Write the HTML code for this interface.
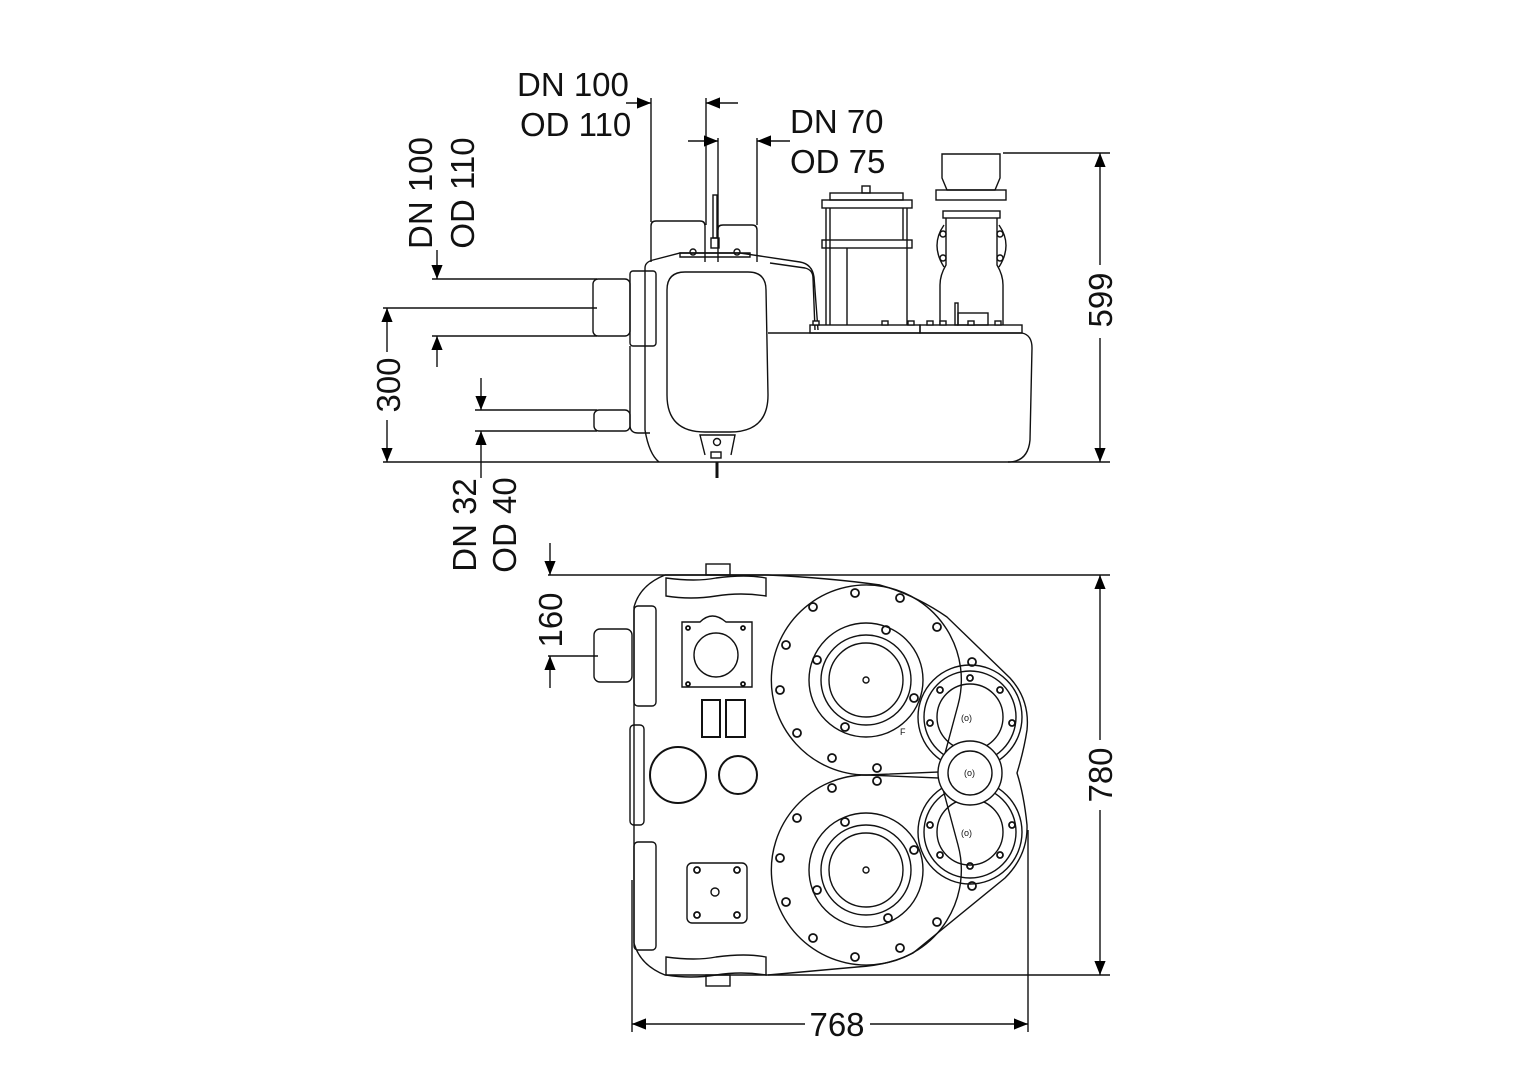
<!DOCTYPE html>
<html><head><meta charset="utf-8"><style>
html,body{margin:0;padding:0;background:#fff}
svg{display:block}
text{font-family:"Liberation Sans",Arial,sans-serif;fill:#111}
</style></head><body>
<svg width="1528" height="1080" viewBox="0 0 1528 1080" xmlns="http://www.w3.org/2000/svg">
<defs>
<marker id="a" viewBox="0 0 10 10" refX="10" refY="5" markerWidth="14" markerHeight="14" markerUnits="userSpaceOnUse" orient="auto"><path d="M0,1 L10,5 L0,9 z" fill="#000"/></marker>
</defs>
<g fill="none" stroke="#111" stroke-width="1.4">
<!-- ===== SIDE VIEW ===== -->
<line x1="383" y1="462" x2="1110" y2="462"/>
<line x1="651" y1="98" x2="651" y2="222"/>
<line x1="706" y1="98" x2="706" y2="225"/>
<line x1="718" y1="138" x2="718" y2="230"/>
<line x1="757" y1="138" x2="757" y2="225"/>
<line x1="626" y1="103" x2="651" y2="103" marker-end="url(#a)"/>
<line x1="738" y1="103" x2="706" y2="103" marker-end="url(#a)"/>
<line x1="688" y1="141" x2="718" y2="141" marker-end="url(#a)"/>
<line x1="790" y1="141" x2="757" y2="141" marker-end="url(#a)"/>
<path d="M651,262 V226 q0,-5 5,-5 H700 q5,0 5,5 V262"/>
<path d="M718,262 V229 q0,-4 5,-4 H752 q5,0 5,5 V262"/>
<rect x="713" y="195" width="4" height="43"/>
<rect x="711" y="238" width="8" height="10"/>
<path d="M645,345 V268 q0,-6 8,-8 L680,253 H740 L760,256 L800,262 q12,2 14,15 L818,330"/>
<path d="M770,263 L805,268 q8,2 8,10 L815,330"/>
<path d="M680,253 h70 v4 h-70z"/>
<circle cx="693" cy="252" r="3"/><circle cx="737" cy="252" r="3"/>
<path d="M667,290 q0,-18 18,-18 H748 q18,0 18,18 L768,395 q0,37 -38,37 H705 q-38,0 -38,-37 z"/>
<rect x="630" y="271" width="26" height="75" rx="3"/>
<path d="M630,346 V425 q0,8 8,8 H650"/>
<path d="M645,345 L645,430 q4,24 14,32"/>
<line x1="432" y1="279" x2="597" y2="279"/>
<line x1="383" y1="308" x2="597" y2="308"/>
<line x1="432" y1="336" x2="597" y2="336"/>
<rect x="593" y="279" width="37" height="57" rx="5"/>
<line x1="475" y1="410" x2="597" y2="410"/>
<line x1="475" y1="431" x2="597" y2="431"/>
<rect x="594" y="410" width="36" height="21" rx="5"/>
<path d="M705,455 L700,435 H735 L731,455"/>
<circle cx="717" cy="442" r="3.5"/>
<rect x="711" y="452" width="10" height="6"/>
<line x1="717" y1="462" x2="717" y2="478" stroke-width="3"/>
<path d="M768,333 H1022 q10,2 10,15 L1030,440 q-2,22 -22,22"/>
<rect x="810" y="325" width="110" height="8"/>
<rect x="920" y="325" width="102" height="8"/>
<rect x="822" y="200" width="90" height="8"/>
<rect x="830" y="193" width="73" height="7"/>
<rect x="862" y="186" width="8" height="7"/>
<rect x="822" y="240" width="90" height="8"/>
<line x1="826" y1="208" x2="826" y2="325"/>
<line x1="830" y1="208" x2="830" y2="325"/>
<line x1="907" y1="208" x2="907" y2="325"/>
<line x1="903" y1="208" x2="903" y2="240"/>
<line x1="847" y1="248" x2="847" y2="325"/>
<path d="M942,154 H1000 V178 L995,190 H947 L942,178 z"/>
<rect x="936" y="190" width="70" height="10"/>
<rect x="943" y="211" width="57" height="7"/>
<path d="M946,218 V265 q-6,10 -6,20 V325 M997,218 V265 q6,10 6,20 V325"/>
<path d="M944,225 q-14,20 0,42 M999,225 q14,20 0,42"/>
<circle cx="943" cy="234" r="3"/><circle cx="943" cy="258" r="3"/>
<circle cx="1000" cy="234" r="3"/><circle cx="1000" cy="258" r="3"/>
<rect x="955" y="303" width="3" height="22"/>
<rect x="958" y="313" width="30" height="12"/>
<g fill="#fff">
<rect x="813" y="321" width="6" height="4"/><rect x="882" y="321" width="6" height="4"/><rect x="908" y="321" width="6" height="4"/>
<rect x="927" y="321" width="6" height="4"/><rect x="940" y="321" width="6" height="4"/><rect x="968" y="321" width="6" height="4"/><rect x="995" y="321" width="6" height="4"/>
</g>
<line x1="1003" y1="153" x2="1110" y2="153"/>
<line x1="1100" y1="265" x2="1100" y2="153" marker-end="url(#a)"/>
<line x1="1100" y1="338" x2="1100" y2="462" marker-end="url(#a)"/>
<line x1="437" y1="250" x2="437" y2="279" marker-end="url(#a)"/>
<line x1="437" y1="367" x2="437" y2="336" marker-end="url(#a)"/>
<line x1="387" y1="352" x2="387" y2="308" marker-end="url(#a)"/>
<line x1="387" y1="420" x2="387" y2="462" marker-end="url(#a)"/>
<line x1="481" y1="378" x2="481" y2="410" marker-end="url(#a)"/>
<line x1="481" y1="478" x2="481" y2="431" marker-end="url(#a)"/>

<!-- ===== TOP VIEW ===== -->
<line x1="548" y1="575" x2="1110" y2="575"/>
<line x1="768" y1="975" x2="1110" y2="975"/>
<line x1="550" y1="543" x2="550" y2="575" marker-end="url(#a)"/>
<line x1="548" y1="656" x2="598" y2="656"/>
<line x1="550" y1="688" x2="550" y2="656" marker-end="url(#a)"/>
<line x1="1100" y1="740" x2="1100" y2="575" marker-end="url(#a)"/>
<line x1="1100" y1="810" x2="1100" y2="975" marker-end="url(#a)"/>
<line x1="632" y1="880" x2="632" y2="1032"/>
<line x1="1028" y1="830" x2="1028" y2="1032"/>
<line x1="805" y1="1024" x2="632" y2="1024" marker-end="url(#a)"/>
<line x1="870" y1="1024" x2="1028" y2="1024" marker-end="url(#a)"/>
<rect x="706" y="564" width="24" height="11"/>
<rect x="706" y="975" width="24" height="11"/>
<!-- outline -->
<path d="M665,575 H768 Q830,578 880,585 Q915,595 947,617 L1010,678 Q1030,700 1027,730 Q1024,750 1017,773 Q1024,795 1027,825 Q1028,855 1005,878 L913,953 Q890,965 857,967 L768,975 H665 Q640,965 634,943 V607 Q640,585 665,575 z"/>
<path d="M666,578 q30,4 50,0 q30,-4 50,0 v18 q-25,-4 -50,0 q-25,4 -50,0 z"/>
<path d="M666,957 q30,4 50,0 q30,-4 50,0 v18 q-25,-4 -50,0 q-25,4 -50,0 z"/>
<rect x="634" y="606" width="22" height="100" rx="4"/>
<rect x="630" y="725" width="14" height="100" rx="4"/>
<rect x="634" y="842" width="22" height="108" rx="4"/>
<rect x="594" y="629" width="38" height="53" rx="6"/>
<path d="M682,622 H700 q12,-12 26,0 H752 V687 H682 z"/>
<circle cx="716" cy="655" r="22"/>
<rect x="702" y="700" width="18" height="37" stroke-width="2"/>
<rect x="726" y="700" width="19" height="37" stroke-width="2"/>
<circle cx="678" cy="775" r="28" stroke-width="2"/>
<circle cx="738" cy="775" r="19" stroke-width="2"/>
<rect x="687" y="863" width="60" height="60" rx="5"/>
<circle cx="715" cy="892" r="4"/>
<!-- flanges -->
<path d="M866,775 A95,95 0 1 1 958,705 L940,772 z"/>
<path d="M866,775 A95,95 0 1 0 958,845 L940,778 z"/>
<circle cx="866" cy="680" r="57"/><circle cx="866" cy="680" r="45"/><circle cx="866" cy="680" r="37"/><circle cx="866" cy="680" r="3"/>
<circle cx="866" cy="870" r="57"/><circle cx="866" cy="870" r="45"/><circle cx="866" cy="870" r="37"/><circle cx="866" cy="870" r="3"/>
<circle cx="970" cy="717" r="52"/>
<circle cx="970" cy="717" r="46"/><circle cx="970" cy="717" r="33"/>
<circle cx="970" cy="832" r="52"/>
<circle cx="970" cy="832" r="46"/><circle cx="970" cy="832" r="33"/>
<circle cx="970" cy="773" r="32" fill="#fff"/><circle cx="970" cy="773" r="22"/>
<g stroke-width="1.8">
<circle cx="855" cy="593" r="4"/><circle cx="900" cy="598" r="4"/><circle cx="937" cy="627" r="4"/><circle cx="813" cy="607" r="4"/><circle cx="786" cy="645" r="4"/><circle cx="780" cy="690" r="4"/><circle cx="797" cy="733" r="4"/><circle cx="832" cy="758" r="4"/><circle cx="877" cy="768" r="4"/><circle cx="972" cy="662" r="4"/>
<circle cx="817" cy="660" r="4"/><circle cx="886" cy="630" r="4"/><circle cx="914" cy="698" r="4"/><circle cx="845" cy="727" r="4"/>
<circle cx="877" cy="781" r="4"/><circle cx="832" cy="788" r="4"/><circle cx="797" cy="818" r="4"/><circle cx="780" cy="858" r="4"/><circle cx="786" cy="902" r="4"/><circle cx="813" cy="938" r="4"/><circle cx="855" cy="957" r="4"/><circle cx="900" cy="948" r="4"/><circle cx="937" cy="922" r="4"/><circle cx="972" cy="886" r="4"/>
<circle cx="845" cy="822" r="4"/><circle cx="914" cy="850" r="4"/><circle cx="817" cy="890" r="4"/><circle cx="888" cy="918" r="4"/>
<circle cx="940" cy="690" r="3"/><circle cx="1000" cy="690" r="3"/><circle cx="930" cy="723" r="3"/><circle cx="1012" cy="723" r="3"/><circle cx="970" cy="678" r="3"/>
<circle cx="940" cy="855" r="3"/><circle cx="1000" cy="855" r="3"/><circle cx="930" cy="825" r="3"/><circle cx="1012" cy="825" r="3"/><circle cx="970" cy="866" r="3"/>
<circle cx="688" cy="628" r="2"/><circle cx="743" cy="628" r="2"/><circle cx="688" cy="684" r="2"/><circle cx="743" cy="684" r="2"/>
<circle cx="697" cy="870" r="3"/><circle cx="737" cy="870" r="3"/><circle cx="697" cy="915" r="3"/><circle cx="737" cy="915" r="3"/>
</g>
</g>
<g font-size="33">
<text x="517" y="96">DN 100</text>
<text x="520" y="136">OD 110</text>
<text x="790" y="133">DN 70</text>
<text x="790" y="173">OD 75</text>
<text transform="translate(432,193) rotate(-90)" text-anchor="middle">DN 100</text>
<text transform="translate(474,193) rotate(-90)" text-anchor="middle">OD 110</text>
<text transform="translate(400,385) rotate(-90)" text-anchor="middle">300</text>
<text transform="translate(476,525) rotate(-90)" text-anchor="middle">DN 32</text>
<text transform="translate(516,525) rotate(-90)" text-anchor="middle">OD 40</text>
<text transform="translate(562,620) rotate(-90)" text-anchor="middle">160</text>
<text transform="translate(1112,300) rotate(-90)" text-anchor="middle">599</text>
<text transform="translate(1112,775) rotate(-90)" text-anchor="middle">780</text>
<text x="837" y="1036" text-anchor="middle">768</text>
</g>
<g font-size="9">
<text x="964" y="776">(o)</text>
<text x="961" y="721">(o)</text>
<text x="961" y="836">(o)</text>
<text x="900" y="735">F</text>
</g>
</svg>
</body></html>
